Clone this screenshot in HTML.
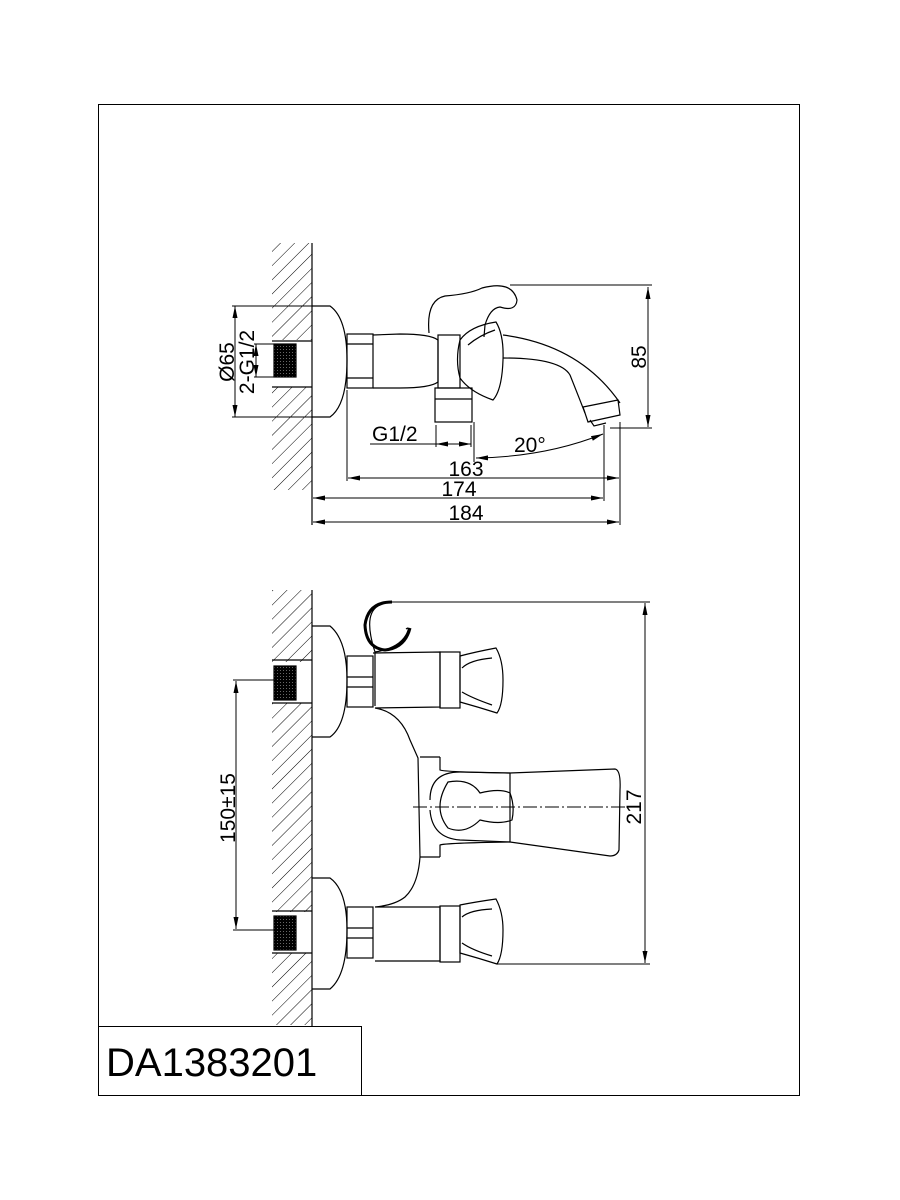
<!DOCTYPE html>
<html><head><meta charset="utf-8"><style>
html,body{margin:0;padding:0;background:#fff}
svg{display:block}
text{font-family:"Liberation Sans",sans-serif;fill:#000}
</style></head><body>
<svg width="900" height="1200" viewBox="0 0 900 1200" xmlns="http://www.w3.org/2000/svg">
<defs>
<pattern id="h" patternUnits="userSpaceOnUse" width="10" height="10" patternTransform="rotate(45)">
<line x1="0" y1="0" x2="0" y2="10" stroke="#000" stroke-width="1"/>
</pattern>
<pattern id="g" patternUnits="userSpaceOnUse" width="3" height="3">
<rect width="3" height="3" fill="#000"/><rect x="1" y="1" width="1" height="1" fill="#666"/>
</pattern>
<marker id="a" markerWidth="12" markerHeight="6" refX="12" refY="3" orient="auto-start-reverse" markerUnits="userSpaceOnUse">
<path d="M0,0.5 L12,3 L0,5.5 Z" fill="#000"/>
</marker>
</defs>
<rect x="98.5" y="104.5" width="701" height="991" fill="none" stroke="#000" stroke-width="1"/>
<rect x="98.5" y="1026.5" width="263" height="69" fill="#fff" stroke="#000" stroke-width="1"/>
<text x="106" y="1076" font-size="40">DA1383201</text>

<g fill="none" stroke="#000" stroke-width="1.2">
<!-- TOP VIEW -->
<rect x="272" y="243" width="40" height="97" fill="url(#h)" stroke="none"/>
<rect x="272" y="387" width="40" height="103" fill="url(#h)" stroke="none"/>
<line x1="312" y1="243" x2="312" y2="525"/>
<line x1="272" y1="341" x2="312" y2="341"/><line x1="272" y1="387" x2="312" y2="387"/>
<rect x="274" y="344" width="22" height="33" fill="url(#g)" stroke="#000"/>
<path d="M312,306 L330,306 Q347,318 347,360 Q347,405 330,417 L312,417"/>
<rect x="347" y="334" width="26" height="54"/>
<line x1="347" y1="344" x2="373" y2="344"/><line x1="347" y1="378" x2="373" y2="378"/>
<path d="M373,335 L400,334 Q430,334 438,340 L438,382 Q430,388 400,388 L373,388"/>
<rect x="438" y="335" width="22" height="53"/>
<path d="M460,340 Q470,326 496,322 Q504,335 503,360 Q502,390 493,400 Q470,392 460,378 Q455,360 460,340 Z"/>
<path d="M468,345 Q480,335 495,330"/>
<path d="M429,333 Q426,300 445,296 Q470,294 482,288 Q512,280 517,300 Q516,312 500,307 Q490,308 485,325 L484,337"/>
<path d="M503,335 Q580,345 620,403"/>
<path d="M503,358 Q560,358 570,375 Q578,395 585,413"/>
<path d="M583,407 L618,400 L620,415 L588,422 Z"/>
<path d="M590,420 L594,426 L606,423"/>
<rect x="435" y="388" width="37" height="34"/>
<line x1="435" y1="399" x2="472" y2="399"/>
<g stroke-width="1">
<line x1="232" y1="306" x2="312" y2="306"/><line x1="232" y1="417" x2="312" y2="417"/>
<line x1="235" y1="306" x2="235" y2="417" marker-start="url(#a)" marker-end="url(#a)"/>
<line x1="254" y1="344" x2="274" y2="344"/><line x1="254" y1="377" x2="274" y2="377"/>
<line x1="256" y1="344" x2="256" y2="377" marker-start="url(#a)" marker-end="url(#a)"/>
<line x1="510" y1="285" x2="652" y2="285"/><line x1="610" y1="428" x2="652" y2="428"/>
<line x1="648" y1="287" x2="648" y2="427" marker-start="url(#a)" marker-end="url(#a)"/>
<line x1="436" y1="425" x2="436" y2="447"/><line x1="471" y1="425" x2="471" y2="447"/>
<line x1="370" y1="444" x2="436" y2="444"/>
<line x1="436" y1="444" x2="471" y2="444" marker-start="url(#a)" marker-end="url(#a)"/>
<line x1="347" y1="390" x2="347" y2="481"/>
<line x1="474" y1="422" x2="474" y2="462"/>
<line x1="620" y1="422" x2="620" y2="525"/>
<line x1="604" y1="425" x2="604" y2="501"/>
<path d="M476,458 Q545,457 603,434" marker-start="url(#a)" marker-end="url(#a)"/>
<line x1="348" y1="478" x2="619" y2="478" marker-start="url(#a)" marker-end="url(#a)"/>
<line x1="313" y1="498" x2="603" y2="498" marker-start="url(#a)" marker-end="url(#a)"/>
<line x1="313" y1="522" x2="619" y2="522" marker-start="url(#a)" marker-end="url(#a)"/>
</g>

<!-- BOTTOM VIEW -->
<rect x="272" y="590" width="40" height="72" fill="url(#h)" stroke="none"/>
<rect x="272" y="703" width="40" height="209" fill="url(#h)" stroke="none"/>
<rect x="272" y="953" width="40" height="72" fill="url(#h)" stroke="none"/>
<line x1="312" y1="590" x2="312" y2="1026"/>
<line x1="272" y1="660" x2="312" y2="660"/><line x1="272" y1="703" x2="312" y2="703"/>
<line x1="272" y1="911" x2="312" y2="911"/><line x1="272" y1="953" x2="312" y2="953"/>
<rect x="274" y="666" width="22" height="34" fill="url(#g)" stroke="#000"/>
<rect x="274" y="916" width="22" height="34" fill="url(#g)" stroke="#000"/>
<path d="M312,626 L330,626 Q347,640 347,680 Q347,725 330,737 L312,737"/>
<path d="M312,878 L330,878 Q347,890 347,930 Q347,975 330,989 L312,989"/>
<rect x="347" y="656" width="26" height="51"/><line x1="347" y1="677" x2="373" y2="677"/><line x1="347" y1="687" x2="373" y2="687"/>
<rect x="347" y="907" width="26" height="51"/><line x1="347" y1="928" x2="373" y2="928"/><line x1="347" y1="938" x2="373" y2="938"/>
<path d="M375,706 L375,652 Q363,615 378,606 Q386,602 392,602"/>
<path d="M375,652 Q400,648 407,633 Q410,626 406,629"/>
<path d="M373,653 L440,652 L440,707 L375,708 Q400,712 410,740 L418,758 L420,857 Q418,885 405,897 Q395,905 375,907 L440,907 L440,961 L375,961"/>
<path d="M440,757 L420,757 M440,857 L420,857"/>
<rect x="440" y="652" width="20" height="56"/>
<rect x="440" y="906" width="20" height="56"/>
<path d="M460,656 Q475,652 496,648 Q503,660 503,680 Q503,705 497,713 Q478,707 460,702 Z"/>
<path d="M462,668 Q470,660 492,658 M462,692 Q472,698 492,705"/>
<path d="M460,905 Q475,902 496,899 Q503,912 503,930 Q503,955 497,964 Q478,958 460,953 Z"/>
<path d="M462,917 Q470,910 492,909 M462,943 Q472,950 492,956"/>
<path d="M440,757 L440,770 Q445,772 510,773 L615,769 Q621,770 620,790 L619,850 Q617,856 610,856 L510,842 Q445,843 440,845 L440,857"/>
<path d="M430,800 Q430,772 460,772 L510,773 M430,810 Q432,838 460,840 L510,842"/>
<path d="M448,782 Q470,778 480,793 Q500,788 510,793 Q515,806 512,820 Q500,825 480,820 Q465,835 448,828 Q432,808 448,782 Z"/>
<line x1="510" y1="773" x2="510" y2="842"/>
<line x1="413" y1="807" x2="625" y2="807" stroke-width="1" stroke-dasharray="14,3,2,3"/>
<g stroke-width="1">
<line x1="392" y1="602" x2="650" y2="602"/><line x1="497" y1="964" x2="650" y2="964"/>
<line x1="645" y1="603" x2="645" y2="963" marker-start="url(#a)" marker-end="url(#a)"/>
<line x1="233" y1="680" x2="276" y2="680"/><line x1="233" y1="930" x2="276" y2="930"/>
<line x1="236" y1="681" x2="236" y2="929" marker-start="url(#a)" marker-end="url(#a)"/>
</g>
</g>
<path d="M392,602 Q368,602 365,625 Q366,648 385,650 Q405,648 410,628" fill="none" stroke="#000" stroke-width="3"/>

<g font-size="21">
<text x="372" y="441">G1/2</text>
<text x="514" y="452">20°</text>
<text x="466" y="476" text-anchor="middle">163</text>
<text x="459" y="496" text-anchor="middle">174</text>
<text x="466" y="520" text-anchor="middle">184</text>
<text transform="translate(234,362) rotate(-90)" text-anchor="middle">Ø65</text>
<text transform="translate(254,362) rotate(-90)" text-anchor="middle">2-G1/2</text>
<text transform="translate(646,357) rotate(-90)" text-anchor="middle">85</text>
<text transform="translate(641,807) rotate(-90)" text-anchor="middle">217</text>
<text transform="translate(235,808) rotate(-90)" text-anchor="middle">150±15</text>
</g>
</svg>
</body></html>
